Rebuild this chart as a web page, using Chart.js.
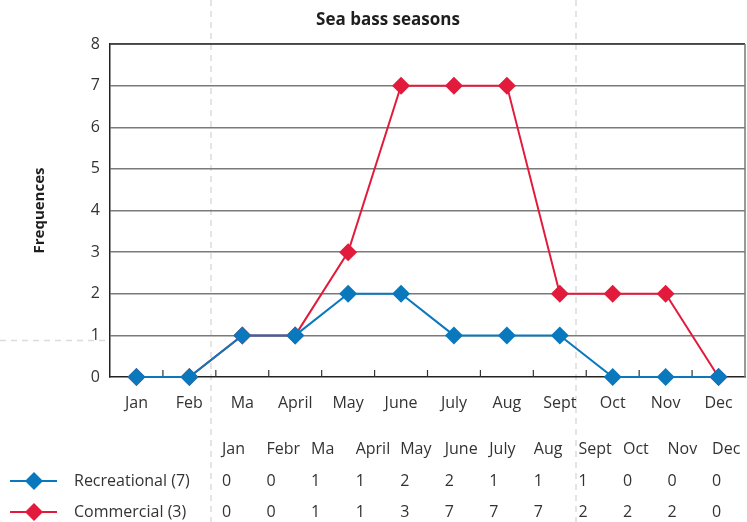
<!DOCTYPE html>
<html><head><meta charset="utf-8">
<script src="https://cdn.jsdelivr.net/npm/chart.js@4.4.1/dist/chart.umd.min.js"></script>
<style>html,body{margin:0;padding:0;background:#fff}#wrap{width:747px;height:522px;position:relative}</style>
</head><body><div id="wrap"><canvas id="c" width="747" height="522"></canvas></div>
<script>
const months = ['Jan','Feb','Ma','April','May','June','July','Aug','Sept','Oct','Nov','Dec'];
const tableMonths = ['Jan','Febr','Ma','April','May','June','July','Aug','Sept','Oct','Nov','Dec'];
const recreational = [0,0,1,1,2,2,1,1,1,0,0,0];
const commercial = [0,0,1,1,3,7,7,7,2,2,2,0];
const seriesNames = ['Recreational (7)','Commercial (3)'];
const titleText = 'Sea bass seasons';
const yTitle = 'Frequences';
const BLUE = '#0a78bd', RED = '#e21b3c';
const FONT = '"Open Sans", Lato, sans-serif';

const decor = {
  id:'decor',
  beforeDraw(chart){
    const ctx = chart.ctx;
    ctx.save();
    ctx.strokeStyle = '#dcdcdc'; ctx.lineWidth = 1.5; ctx.setLineDash([6,5]);
    [211,576].forEach(x=>{ctx.beginPath();ctx.moveTo(x,0);ctx.lineTo(x,522);ctx.stroke();});
    ctx.beginPath();ctx.moveTo(0,340.5);ctx.lineTo(108,340.5);ctx.stroke();
    ctx.restore();
  },
  beforeDatasetsDraw(chart){
    const ctx = chart.ctx, a = chart.chartArea, xs = chart.scales.x;
    ctx.save();
    ctx.strokeStyle = '#333'; ctx.lineWidth = 1.5;
    ctx.beginPath(); ctx.moveTo(a.left, a.top); ctx.lineTo(a.right, a.top); ctx.stroke();
    ctx.strokeStyle = '#777';
    ctx.beginPath(); ctx.moveTo(a.right, a.top); ctx.lineTo(a.right, a.bottom); ctx.stroke();
    ctx.strokeStyle = '#333'; ctx.lineWidth = 1.2;
    for(let i=1;i<months.length;i++){
      const x = (xs.getPixelForValue(i-1)+xs.getPixelForValue(i))/2;
      ctx.beginPath(); ctx.moveTo(x, a.bottom); ctx.lineTo(x, a.bottom-7); ctx.stroke();
    }
    ctx.restore();
  },
  afterDraw(chart){
    const ctx = chart.ctx, a = chart.chartArea;
    ctx.save();
    ctx.fillStyle = '#1e1e1e';
    ctx.font = 'bold 17px ' + FONT;
    ctx.textAlign = 'center'; ctx.textBaseline = 'middle';
    ctx.fillText(titleText, 388, 20);
    ctx.save();
    ctx.font = 'bold 15px ' + FONT;
    ctx.translate(40, (a.top+a.bottom)/2);
    ctx.rotate(-Math.PI/2);
    ctx.fillText(yTitle, 0, 0);
    ctx.restore();
    ctx.font = '16px ' + FONT;
    ctx.fillStyle = '#333';
    ctx.textAlign = 'left';
    const x0 = 222, step = 44.55;
    const rows = [recreational, commercial];
    const rowY = [481, 512];
    tableMonths.forEach((m,i)=>ctx.fillText(m, x0+i*step, 449));
    rows.forEach((r,ri)=>{
      r.forEach((v,i)=>ctx.fillText(String(v), x0+i*step, rowY[ri]));
      const ds = chart.data.datasets[ri];
      const y = rowY[ri];
      ctx.strokeStyle = ds.borderColor; ctx.lineWidth = 2;
      ctx.beginPath(); ctx.moveTo(10,y); ctx.lineTo(57,y); ctx.stroke();
      ctx.fillStyle = ds.borderColor;
      const r2 = 9;
      ctx.beginPath(); ctx.moveTo(34,y-r2); ctx.lineTo(34+r2,y); ctx.lineTo(34,y+r2); ctx.lineTo(34-r2,y); ctx.closePath(); ctx.fill();
      ctx.fillStyle = '#333';
      ctx.fillText(seriesNames[ri], 74, y);
    });
    ctx.restore();
  }
};

new Chart(document.getElementById('c'), {
  type:'line',
  data:{
    labels: months,
    datasets:[
      {label:seriesNames[0], data:recreational, borderColor:BLUE, backgroundColor:BLUE, borderWidth:2, clip:false,
       pointStyle:'rectRot', pointRadius:9, pointHoverRadius:9, pointBorderWidth:0, tension:0},
      {label:seriesNames[1], data:commercial, borderColor:RED, backgroundColor:RED, borderWidth:2, clip:false,
       pointStyle:'rectRot', pointRadius:9, pointHoverRadius:9, pointBorderWidth:0, tension:0}
    ]
  },
  options:{
    responsive:false, animation:false,
    layout:{autoPadding:false, padding:{top:44, right:2, left:0, bottom:0}},
    plugins:{legend:{display:false}, title:{display:false}, tooltip:{enabled:false}},
    scales:{
      x:{
        offset:true,
        grid:{display:false},
        border:{display:true, color:'#222', width:1.5},
        ticks:{color:'#333', font:{family:FONT, size:16}, padding:9, maxRotation:0, autoSkip:false},
        afterFit(s){ s.height = 145; }
      },
      y:{
        min:0, max:8,
        grid:{color:(c)=> c.tick.value===0 ? 'rgba(0,0,0,0)' : '#7a7a7a', lineWidth:1.5, drawTicks:false},
        border:{display:true, color:'#222', width:1.5},
        ticks:{stepSize:1, color:'#333', font:{family:FONT, size:16}, padding:10},
        afterFit(s){ s.width = 110; }
      }
    }
  },
  plugins:[decor]
});
</script></body></html>
